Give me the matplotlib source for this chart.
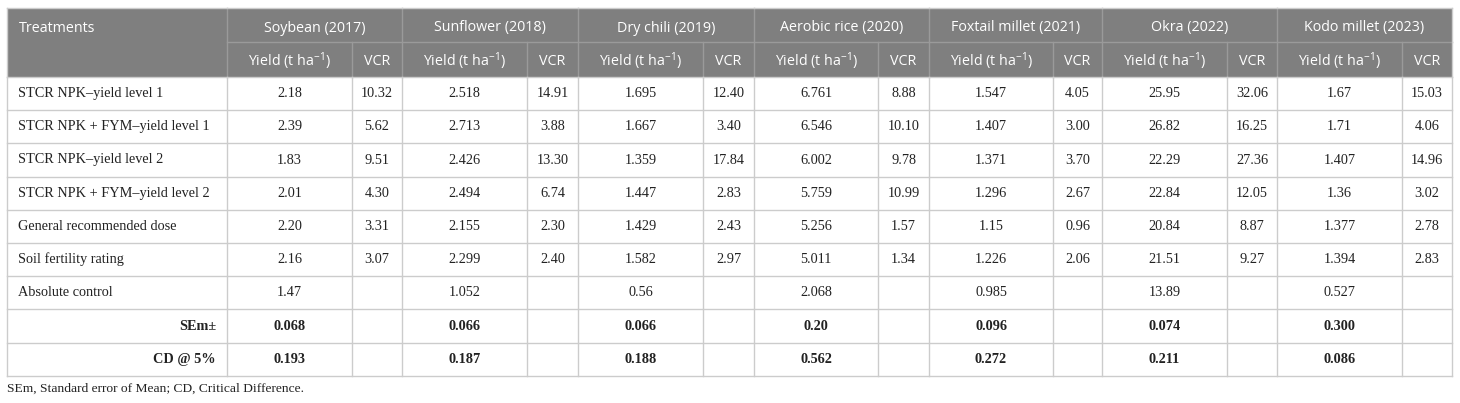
import matplotlib
matplotlib.use("Agg")
import matplotlib.pyplot as plt
from matplotlib.patches import Rectangle

plt.rcParams['mathtext.fontset'] = 'custom'
plt.rcParams['mathtext.rm'] = 'Open Sans'
plt.rcParams['mathtext.it'] = 'Open Sans'

crops = ["Soybean (2017)", "Sunflower (2018)", "Dry chili (2019)", "Aerobic rice (2020)",
         "Foxtail millet (2021)", "Okra (2022)", "Kodo millet (2023)"]
treatments = ["STCR NPK\u2013yield level 1", "STCR NPK + FYM\u2013yield level 1",
              "STCR NPK\u2013yield level 2", "STCR NPK + FYM\u2013yield level 2",
              "General recommended dose", "Soil fertility rating", "Absolute control"]
stat_labels = ["SEm\u00b1", "CD @ 5%"]

yield_soybean = ["2.18", "2.39", "1.83", "2.01", "2.20", "2.16", "1.47"]
yield_sunflower = ["2.518", "2.713", "2.426", "2.494", "2.155", "2.299", "1.052"]
yield_chili = ["1.695", "1.667", "1.359", "1.447", "1.429", "1.582", "0.56"]
yield_rice = ["6.761", "6.546", "6.002", "5.759", "5.256", "5.011", "2.068"]
yield_foxtail = ["1.547", "1.407", "1.371", "1.296", "1.15", "1.226", "0.985"]
yield_okra = ["25.95", "26.82", "22.29", "22.84", "20.84", "21.51", "13.89"]
yield_kodo = ["1.67", "1.71", "1.407", "1.36", "1.377", "1.394", "0.527"]

vcr_soybean = ["10.32", "5.62", "9.51", "4.30", "3.31", "3.07", ""]
vcr_sunflower = ["14.91", "3.88", "13.30", "6.74", "2.30", "2.40", ""]
vcr_chili = ["12.40", "3.40", "17.84", "2.83", "2.43", "2.97", ""]
vcr_rice = ["8.88", "10.10", "9.78", "10.99", "1.57", "1.34", ""]
vcr_foxtail = ["4.05", "3.00", "3.70", "2.67", "0.96", "2.06", ""]
vcr_okra = ["32.06", "16.25", "27.36", "12.05", "8.87", "9.27", ""]
vcr_kodo = ["15.03", "4.06", "14.96", "3.02", "2.78", "2.83", ""]

sem = ["0.068", "0.066", "0.066", "0.20", "0.096", "0.074", "0.300"]
cd5 = ["0.193", "0.187", "0.188", "0.562", "0.272", "0.211", "0.086"]

footnote = "SEm, Standard error of Mean; CD, Critical Difference."

yields = [yield_soybean, yield_sunflower, yield_chili, yield_rice, yield_foxtail, yield_okra, yield_kodo]
vcrs = [vcr_soybean, vcr_sunflower, vcr_chili, vcr_rice, vcr_foxtail, vcr_okra, vcr_kodo]

W, H = 1460, 403
fig = plt.figure(figsize=(W / 100, H / 100), dpi=100)
ax = fig.add_axes([0, 0, 1, 1])
ax.set_xlim(0, W)
ax.set_ylim(H, 0)
ax.axis('off')

# layout
x_left, x_right = 7, 1452
x_treat = 227
group_starts = [227, 402, 578, 754, 929, 1102, 1277]
group_splits = [352, 527, 703, 878, 1053, 1227, 1402]
group_ends = group_starts[1:] + [x_right]
y_top, y_h1, y_h2 = 8, 42, 77
row_h = 33.2
n_rows = len(treatments) + len(stat_labels)
y_bottom = y_h2 + row_h * n_rows

head_col = '#7f7f7f'
head_line = '#9a9a9a'
grid_col = '#cccccc'
text_col = '#222222'
sans = ['Open Sans', 'DejaVu Sans']
serif = ['Liberation Serif', 'DejaVu Serif']
fs_head = 10.3
fs_body = 10.3

ax.add_patch(Rectangle((x_left, y_top), x_right - x_left, y_h2 - y_top, facecolor=head_col, edgecolor='none'))

# header lines
ax.plot([x_treat, x_right], [y_h1, y_h1], color=head_line, lw=1)
for gs in group_starts:
    ax.plot([gs, gs], [y_top, y_h2], color=head_line, lw=1)
for sp in group_splits:
    ax.plot([sp, sp], [y_h1, y_h2], color=head_line, lw=1)

# body grid
for i in range(n_rows + 1):
    y = y_h2 + i * row_h
    ax.plot([x_left, x_right], [y, y], color=grid_col, lw=1)
for x in [x_left, x_right] + group_starts + group_splits:
    ax.plot([x, x], [y_h2, y_bottom], color=grid_col, lw=1)
ax.plot([x_left, x_right], [y_top, y_top], color=grid_col, lw=1)
ax.plot([x_left, x_left], [y_top, y_h2], color=grid_col, lw=1)
ax.plot([x_right, x_right], [y_top, y_h2], color=grid_col, lw=1)

# header text
yc1 = (y_top + y_h1) / 2 + 3
yc2 = (y_h1 + y_h2) / 2 + 1.5
ax.text(19, yc1, "Treatments", ha='left', va='center', color='white', fontsize=fs_head, family=sans)
for gs, sp, ge, name in zip(group_starts, group_splits, group_ends, crops):
    ax.text((gs + ge) / 2, yc1, name, ha='center', va='center', color='white', fontsize=fs_head, family=sans)
    ax.text((gs + sp) / 2, yc2, r"Yield (t ha$^{\mathrm{-1}}$)", ha='center', va='center', color='white', fontsize=fs_head, family=sans)
    ax.text((sp + ge) / 2, yc2 + 0.5, "VCR", ha='center', va='center', color='white', fontsize=fs_head, family=sans)

# body text
for r, t in enumerate(treatments):
    yc = y_h2 + (r + 0.5) * row_h
    ax.text(18, yc, t, ha='left', va='center', color=text_col, fontsize=fs_body, family=serif)
    for g in range(len(crops)):
        gs, sp, ge = group_starts[g], group_splits[g], group_ends[g]
        ax.text((gs + sp) / 2, yc, yields[g][r], ha='center', va='center', color=text_col, fontsize=fs_body, family=serif)
        ax.text((sp + ge) / 2, yc, vcrs[g][r], ha='center', va='center', color=text_col, fontsize=fs_body, family=serif)

for k, (lab, vals) in enumerate(zip(stat_labels, [sem, cd5])):
    yc = y_h2 + (len(treatments) + k + 0.5) * row_h
    ax.text(216, yc, lab, ha='right', va='center', color=text_col, fontsize=fs_body, family=serif, fontweight='bold')
    for g in range(len(crops)):
        gs, sp = group_starts[g], group_splits[g]
        ax.text((gs + sp) / 2, yc, vals[g], ha='center', va='center', color=text_col, fontsize=fs_body, family=serif, fontweight='bold')

ax.text(7, 389, footnote, ha='left', va='center', color=text_col, fontsize=9.7, family=serif)

fig.savefig("out.png", dpi=100)
